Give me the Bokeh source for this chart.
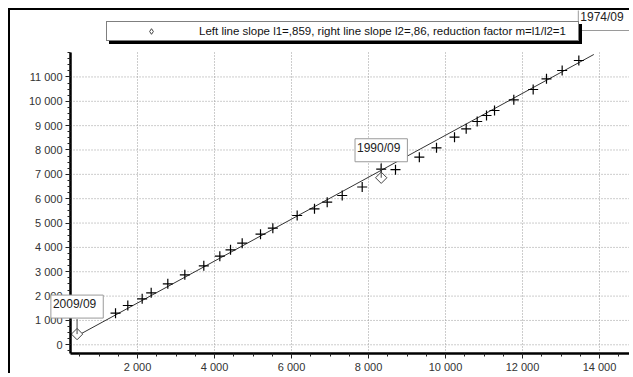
import math
from bokeh.plotting import figure
from bokeh.models import Range1d, FixedTicker, Legend, LegendItem, Label
from bokeh.embed import file_html
from bokeh.resources import INLINE

# ---- data ----
obs_x = [1429, 1748, 2121, 2355, 2787, 3229, 3722, 4138, 4416, 4719, 5195, 5515,
         6147, 6597, 6927, 7317, 7836, 8330, 8701, 9320, 9766, 10234, 10537, 10823,
         11065, 11273, 11774, 12277, 12623, 13030, 13463]
obs_y = [1298, 1614, 1889, 2135, 2505, 2875, 3244, 3639, 3901, 4173, 4543, 4789,
         5310, 5585, 5857, 6131, 6480, 7216, 7190, 7705, 8090, 8526, 8871, 9170,
         9417, 9622, 10062, 10485, 10924, 11265, 11676]

fit_x = [450, 8330, 13852]
fit_y = [382, 7167, 11922]

mark_labels = ["2009/09", "1990/09", "1974/09"]
mark_x = [430, 8330, 14493]
mark_y = [440, 6860, 12250]

x_ticks = [2000, 4000, 6000, 8000, 10000, 12000, 14000]
x_tick_labels = ["2 000", "4 000", "6 000", "8 000", "10 000", "12 000", "14 000"]
y_ticks = [0, 1000, 2000, 3000, 4000, 5000, 6000, 7000, 8000, 9000, 10000, 11000]
y_tick_labels = ["0", "1 000", "2 000", "3 000", "4 000", "5 000", "6 000", "7 000",
                 "8 000", "9 000", "10 000", "11 000"]
x_minor = list(range(500, 15000, 500))
y_minor = list(range(-250, 12250, 250))

legend_text = "Left line slope l1=,859, right line slope l2=,86, reduction factor m=l1/l2=1"

# plotting-area limits (data units) and the whole-canvas view
X0, X1 = 260, 14831
Y0, Y1 = -357, 12004
VIEW_X = (-1299, 14831)
VIEW_Y = (-1261, 13729)

FONT = "Liberation Sans"
W, H = 621, 365

p = figure(width=W, height=H, x_range=Range1d(*VIEW_X), y_range=Range1d(*VIEW_Y),
           output_backend="svg", toolbar_location=None, min_border=0)
p.styles = {"border-left": "2px solid black", "border-top": "2px solid black",
            "margin-left": "8px", "margin-top": "8px"}
p.outline_line_color = None
p.background_fill_color = "white"
p.border_fill_color = "white"
p.xgrid.visible = False
p.ygrid.visible = False

# dotted grid, limited to the plotting area
p.segment(x0=x_ticks, y0=[Y0] * len(x_ticks), x1=x_ticks, y1=[Y1] * len(x_ticks),
          line_color="#9a9a9a", line_dash="1 2", line_width=1)
p.segment(x0=[X0] * len(y_ticks), y0=y_ticks, x1=[X1] * len(y_ticks), y1=y_ticks,
          line_color="#9a9a9a", line_dash="1 2", line_width=1)

for ax, ticks, labels, minor, loc, bnds in (
        (p.xaxis[0], x_ticks, x_tick_labels, x_minor, Y0, (X0, X1)),
        (p.yaxis[0], y_ticks, y_tick_labels, y_minor, X0, (Y0, Y1))):
    ax.fixed_location = loc
    ax.bounds = bnds
    ax.ticker = FixedTicker(ticks=ticks, minor_ticks=minor)
    ax.major_label_overrides = {t: l for t, l in zip(ticks, labels)}
    ax.axis_line_width = 2.5
    ax.axis_line_color = "black"
    ax.major_tick_in = 0
    ax.major_tick_out = 5
    ax.minor_tick_in = 0
    ax.minor_tick_out = 3
    ax.major_tick_line_color = "#222"
    ax.minor_tick_line_color = "#222"
    ax.major_label_text_font = FONT
    ax.major_label_text_font_size = "11px"
    ax.major_label_text_color = "#333"
    ax.major_label_standoff = 3

# fitted double-mass lines
p.line(fit_x, fit_y, line_color="#333", line_width=1)

# observations
p.scatter(obs_x, obs_y, marker="cross", size=10, line_color="black", line_width=1.2)

# break markers (rotated squares) that fall inside the plotting area
in_x = [x for x, y in zip(mark_x, mark_y) if y <= Y1]
in_y = [y for y in mark_y if y <= Y1]
p.scatter(in_x, in_y, marker="square", angle=math.pi / 4, size=8,
          fill_color="white", line_color="#444", line_width=1)

# legend-only diamond glyph (no visible point)
legend_glyph = p.scatter([float("nan")], [float("nan")], marker="diamond", size=9,
                         fill_color="white", line_color="#444", line_width=1)

# pointer lines from the markers up to the callouts
px_per_unit = H / (VIEW_Y[1] - VIEW_Y[0])
seg_len = 15 / px_per_unit
p.segment(x0=in_x, y0=in_y, x1=in_x, y1=[v + seg_len for v in in_y],
          line_color="#444", line_width=1)

# callout labels with a light drop shadow
shifts = [0, 0, -14]
for t, x, y, dx in zip(mark_labels, mark_x, mark_y, shifts):
    shadow = Label(x=x, y=y, text=t, x_offset=dx + 3, y_offset=16 - 3,
                   text_align="center", text_baseline="bottom", text_font=FONT,
                   text_font_size="12px", text_alpha=0,
                   background_fill_color="#c4c4c4", border_line_color=None,
                   padding=(2, 7, 2, 7))
    lab = Label(x=x, y=y, text=t, x_offset=dx, y_offset=16, text_align="center",
                text_baseline="bottom", text_font=FONT, text_font_size="12px",
                text_color="#222", background_fill_color="white",
                border_line_color="#9a9a9a", border_line_width=1,
                padding=(2, 7, 2, 7))
    p.add_layout(shadow)
    p.add_layout(lab)

# legend (with a black drop shadow)
hidden = p.scatter([], [], marker="square", size=1, fill_alpha=0, line_alpha=0)

common = dict(padding=2, spacing=0, glyph_width=84, glyph_height=14, label_height=14,
              label_standoff=6, label_width=377, label_text_font=FONT,
              label_text_font_size="11.5px", border_line_color="black",
              border_line_width=1, orientation="vertical")
leg_shadow = Legend(items=[LegendItem(label=" ", renderers=[hidden])],
                    location=(99, H - 31 - 3), background_fill_color="black",
                    background_fill_alpha=1, **common)
leg = Legend(items=[LegendItem(label=legend_text, renderers=[legend_glyph])],
             location=(96, H - 31), background_fill_color="white",
             background_fill_alpha=1, label_text_color="#111", **common)
p.add_layout(leg_shadow, "center")
p.add_layout(leg, "center")

open("out.html", "w").write(file_html(p, INLINE))
